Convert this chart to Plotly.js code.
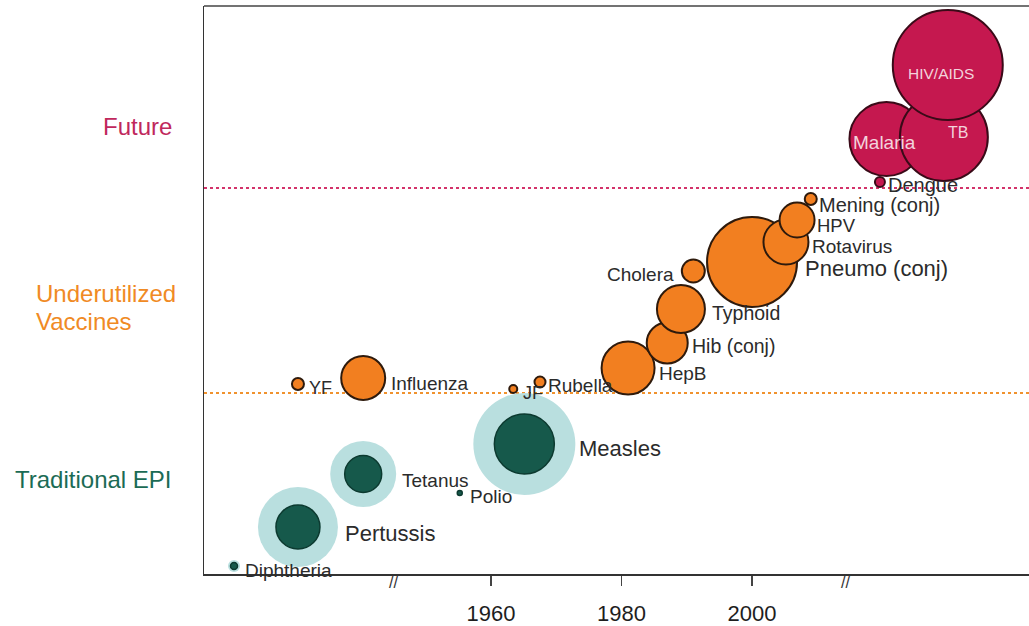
<!DOCTYPE html>
<html>
<head>
<meta charset="utf-8">
<script src="https://cdn.plot.ly/plotly-3.0.1.min.js"></script>
<style>html,body{margin:0;padding:0;background:#fff}#chart{width:1029px;height:626px}</style>
</head>
<body>
<div id="chart"></div>
<script>
// ---- Data (x: year position on the broken time axis, y: arbitrary level, size: bubble diameter) ----
const epiNames   = ["Diphtheria", "Pertussis", "Tetanus", "Polio", "Measles"];
const epiYear    = [1920.6, 1930.4, 1940.4, 1955.2, 1965.1];
const epiLevel   = [8, 47, 100, 81, 130];
const epiSize    = [7, 44, 37, 5, 60];
const epiHalo    = [12, 80, 66, 0, 102];

const underNames = ["YF", "Influenza", "JF", "Rubella", "HepB", "Hib (conj)", "Typhoid", "Cholera",
                    "Pneumo (conj)", "Rotavirus", "HPV", "Mening (conj)"];
const underYear  = [1930.4, 1940.4, 1963.4, 1967.5, 1981.0, 1987.0, 1989.1, 1991.0,
                    2000.0, 2005.2, 2006.9, 2009.0];
const underLevel = [190, 196, 185, 192, 206, 231, 265, 303, 312, 332, 354, 375];
const underSize  = [12, 44, 8, 11, 53, 41, 48, 23, 90, 45, 35, 12];

const futureNames = ["Dengue", "Malaria", "TB", "HIV/AIDS"];
const futureYear  = [2019.6, 2020.6, 2029.4, 2030.0];
const futureLevel = [392, 435, 437, 509];
const futureSize  = [10, 74, 88, 110];

const tickYears  = [1960, 1980, 2000];
const groupNames = ["Future", "Underutilized<br>Vaccines", "Traditional EPI"];
const groupLevel = [448, 267, 95];
const boundaryLevels = [386, 181];   // Future/Underutilized, Underutilized/EPI

// ---- Styling / layout constants ----
const W = 1029, H = 626, ML = 204, MT = 6, MB = 52, MR = 0;
const X0 = 1916.0, X1 = 2042.45;
const Y0 = 0, Y1 = 568;
const FONT = "Liberation Sans, Arial, Helvetica, sans-serif";
const TXT = "#2b2b2b";
const C_GREEN = "#16594b", C_HALO = "#b9dfdf", C_ORANGE = "#f27f20", C_RED = "#c5184f";
const C_FUT = "#c0285c", C_UND = "#f08a24", C_EPI = "#1b6b55";

// label offsets in px: [dx, dy(+ = down), anchor, fontsize, colour]
const epiLab = {
  "Diphtheria": [9, 4, "left", 19], "Pertussis": [45, 6, "left", 22], "Tetanus": [37, 6, "left", 19],
  "Polio": [8, 3, "left", 19], "Measles": [53, 4, "left", 22]
};
const underLab = {
  "YF": [9, 4, "left", 18], "Influenza": [26, 5, "left", 19], "JF": [8, 4, "left", 18],
  "Rubella": [6, 3, "left", 19], "HepB": [29, 5, "left", 19], "Hib (conj)": [23, 3, "left", 19.5],
  "Typhoid": [29, 4, "left", 19.5], "Cholera": [-17, 3, "right", 19], "Pneumo (conj)": [51, 6, "left", 22],
  "Rotavirus": [24, 4, "left", 19], "HPV": [18, 5, "left", 18.5], "Mening (conj)": [6, 6, "left", 20]
};
const futureLab = {
  "Dengue": [6, 3, "left", 20, TXT], "Malaria": [-2, 3, "center", 19, "#f3d3dc"],
  "TB": [14, -5, "center", 16, "#f3d3dc"], "HIV/AIDS": [-7, 8, "center", 15.5, "#f3d3dc"]
};

const traces = [];
traces.push({
  type: "scatter", mode: "markers", x: epiYear, y: epiLevel, hoverinfo: "skip",
  marker: {size: epiHalo, sizemode: "diameter", color: C_HALO, line: {width: 0}, opacity: 1}
});
traces.push({
  type: "scatter", mode: "markers", x: epiYear, y: epiLevel, text: epiNames, hoverinfo: "text",
  marker: {size: epiSize, sizemode: "diameter", color: C_GREEN, opacity: 1, line: {width: 1.5, color: "#0c3a30"}}
});
traces.push({
  type: "scatter", mode: "markers", x: underYear, y: underLevel, text: underNames, hoverinfo: "text",
  marker: {size: underSize, sizemode: "diameter", color: C_ORANGE, opacity: 1, line: {width: 2, color: "#2e1a0c"}}
});
traces.push({
  type: "scatter", mode: "markers", x: futureYear, y: futureLevel, text: futureNames, hoverinfo: "text",
  marker: {size: futureSize, sizemode: "diameter", color: C_RED, opacity: 1, line: {width: 2, color: "#3a0a18"}}
});

const annotations = [];
function addLabels(names, xs, ys, spec) {
  names.forEach((n, i) => {
    const s = spec[n];
    annotations.push({
      x: xs[i], y: ys[i], xref: "x", yref: "y", text: n, showarrow: false,
      xanchor: s[2], yanchor: "middle", xshift: s[0], yshift: -s[1],
      font: {family: FONT, size: s[3], color: s[4] || TXT}
    });
  });
}
addLabels(epiNames, epiYear, epiLevel, epiLab);
addLabels(underNames, underYear, underLevel, underLab);
addLabels(futureNames, futureYear, futureLevel, futureLab);

// group labels on the left (each line placed separately)
const plotW = W - ML - MR;
const px2paper = px => (px - ML) / plotW;
const grpStyle = [
  {x: 174, anchor: "right", color: C_FUT},
  {x: 34, anchor: "left", color: C_UND},
  {x: 174, anchor: "right", color: C_EPI}
];
const LINE_GAP = 28;
groupNames.forEach((g, i) => {
  const lines = g.split("<br>");
  lines.forEach((ln, j) => {
    annotations.push({
      x: px2paper(grpStyle[i].x), y: groupLevel[i], xref: "paper", yref: "y", text: ln,
      yshift: ((lines.length - 1) / 2 - j) * LINE_GAP,
      showarrow: false, xanchor: grpStyle[i].anchor, yanchor: "middle",
      font: {family: FONT, size: 24, color: grpStyle[i].color}
    });
  });
});
// axis break marks
[1945.0, 2014.3].forEach(xb => {
  annotations.push({
    x: xb, y: 0, xref: "x", yref: "paper", yshift: -8, text: "//", showarrow: false,
    yanchor: "middle", font: {family: FONT, size: 16, color: "#333"}
  });
});

const shapes = [
  {type: "line", xref: "paper", yref: "y", x0: 0, x1: 1, y0: boundaryLevels[0], y1: boundaryLevels[0],
   line: {color: "#d3336a", width: 2, dash: "dot"}, layer: "below"},
  {type: "line", xref: "paper", yref: "y", x0: 0, x1: 1, y0: boundaryLevels[1], y1: boundaryLevels[1],
   line: {color: "#f0922e", width: 2, dash: "dot"}, layer: "below"},
  {type: "line", xref: "paper", yref: "paper", x0: 0, x1: 1, y0: 1, y1: 1,
   line: {color: "#444", width: 1.5}}
];

const layout = {
  width: W, height: H, margin: {l: ML, r: MR, t: MT, b: MB},
  paper_bgcolor: "#fff", plot_bgcolor: "#fff", showlegend: false,
  xaxis: {
    range: [X0, X1], tickvals: tickYears, ticktext: tickYears.map(String),
    showgrid: false, zeroline: false, showline: true, linecolor: "#333", linewidth: 1.5,
    ticks: "outside", ticklen: 10, tickwidth: 1.5, tickcolor: "#444", ticklabelstandoff: 9,
    tickfont: {family: FONT, size: 22, color: "#1e1e1e"},
    fixedrange: true
  },
  yaxis: {
    range: [Y0, Y1], showgrid: false, zeroline: false, showticklabels: false, ticks: "",
    showline: true, linecolor: "#333", linewidth: 1.5, fixedrange: true
  },
  shapes: shapes, annotations: annotations
};

Plotly.newPlot("chart", traces, layout, {displayModeBar: false, staticPlot: true});
</script>
</body>
</html>
